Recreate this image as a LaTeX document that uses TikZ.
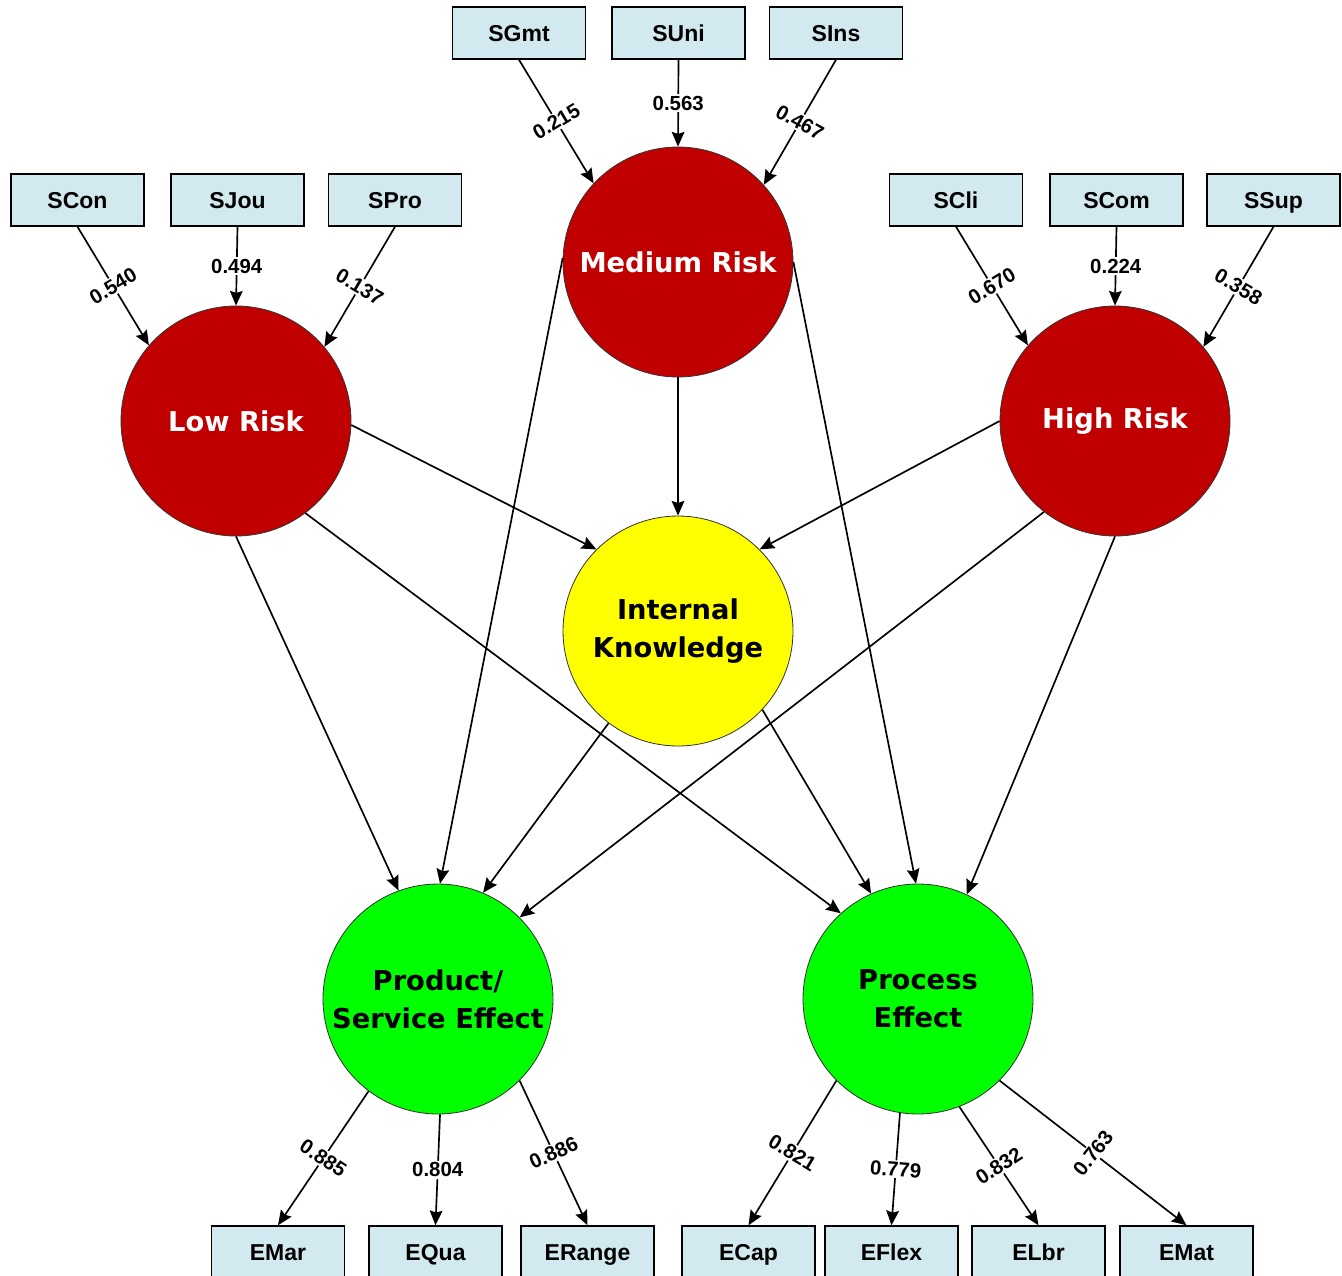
\documentclass[tikz,border=0pt]{standalone}
\usepackage{fontspec}
\setmainfont{Liberation Sans}
\newfontfamily\circfont{DejaVu Sans}
\usetikzlibrary{arrows.meta}
\definecolor{boxfill}{RGB}{210,233,239}
\definecolor{riskred}{RGB}{192,0,0}
\definecolor{kyellow}{RGB}{255,255,0}
\definecolor{egreen}{RGB}{0,255,0}
\begin{document}
\begin{tikzpicture}[x=0.75pt,y=-0.75pt,
  ind/.style={draw=black, line width=1.1pt, fill=boxfill, minimum width=99.75pt,
    minimum height=39pt, inner sep=0pt, text height=12.4pt, text depth=0pt,
    font=\fontsize{17.25}{20}\selectfont\bfseries},
  lv/.style={circle, draw=black!80, line width=0.6pt, minimum size=172.5pt, inner sep=0pt,
    align=center, font=\circfont\fontsize{20.5}{28.5}\selectfont\bfseries},
  link/.style={line width=1.25pt, -{Stealth[length=11pt,width=9.5pt,inset=1.5pt]}},
  wt/.style={fill=white, inner sep=1.2pt, font=\fontsize{15.3}{18}\selectfont\bfseries},
]
\clip (0,0) rectangle (1342,1275);

% indicator boxes, top rows
\node[ind] (sgmt) at (519,33) {SGmt};
\node[ind] (suni) at (678.5,33) {SUni};
\node[ind] (sins) at (836,33) {SIns};
\node[ind] (scon) at (77.5,200) {SCon};
\node[ind] (sjou) at (237.5,200) {SJou};
\node[ind] (spro) at (395,200) {SPro};
\node[ind] (scli) at (956,200) {SCli};
\node[ind] (scom) at (1116.5,200) {SCom};
\node[ind] (ssup) at (1273.5,200) {SSup};

% indicator boxes, bottom row
\node[ind] (emar) at (278,1252) {EMar};
\node[ind] (equa) at (435.5,1252) {EQua};
\node[ind] (erange) at (587.5,1252) {ERange};
\node[ind] (ecap) at (748.5,1252) {ECap};
\node[ind] (eflex) at (891.5,1252) {EFlex};
\node[ind] (elbr) at (1038.5,1252) {ELbr};
\node[ind] (emat) at (1186.5,1252) {EMat};

% latent constructs
\node[lv, fill=riskred, text=white] (med) at (678,262) {Medium Risk};
\node[lv, fill=riskred, text=white] (low) at (236,421) {Low Risk};
\node[lv, fill=riskred, text=white] (high) at (1115,421) {High Risk};
\node[lv, fill=kyellow] (ik) at (678,631) {Internal\\Knowledge};
\node[lv, fill=egreen] (prod) at (438,999) {Product/\\Service Effect};
\node[lv, fill=egreen] (proc) at (918,999) {Process\\Effect};

% structural paths
\draw[link] (med.south) -- (ik.north);
\draw[link] (low.-2) -- (ik.135);
\draw[link] (high.180) -- (ik.45);
\draw[link] (low.south) -- (prod.110);
\draw[link] (low.-53) -- (proc.132);
\draw[link] (med.178) -- (prod.89);
\draw[link] (med.0) -- (proc.91);
\draw[link] (ik.233) -- (prod.67);
\draw[link] (ik.-43) -- (proc.114);
\draw[link] (high.232) -- (prod.45);
\draw[link] (high.south) -- (proc.65);

% formative indicators of the risk constructs
\draw[link] (sgmt.south) -- node[wt, rotate=31] {0.215} (med.137);
\draw[link] (suni.south) -- node[wt] {0.563} (med.north);
\draw[link] (sins.south) -- node[wt, rotate=-29] {0.467} (med.42);
\draw[link] (scon.south) -- node[wt, rotate=31] {0.540} (low.139);
\draw[link] (sjou.south) -- node[wt] {0.494} (low.north);
\draw[link] (spro.south) -- node[wt, rotate=-30.5] {0.137} (low.40);
\draw[link] (scli.south) -- node[wt, rotate=31] {0.670} (high.139);
\draw[link] (scom.south) -- node[wt] {0.224} (high.north);
\draw[link] (ssup.south) -- node[wt, rotate=-30.5] {0.358} (high.40);

% reflective indicators of the effect constructs
\draw[link] (prod.233) -- node[wt, rotate=-34] {0.885} (emar.north);
\draw[link] (prod.271) -- node[wt] {0.804} (equa.north);
\draw[link] (prod.-45) -- node[wt, rotate=24.6] {0.886} (erange.north);
\draw[link] (proc.225) -- node[wt, rotate=-30.7] {0.821} (ecap.north);
\draw[link] (proc.261) -- node[wt, rotate=-4.6] {0.779} (eflex.north);
\draw[link] (proc.291) -- node[wt, rotate=33.5] {0.832} (elbr.north);
\draw[link] (proc.-45) -- node[wt, rotate=52] {0.763} (emat.north);
\end{tikzpicture}
\end{document}
